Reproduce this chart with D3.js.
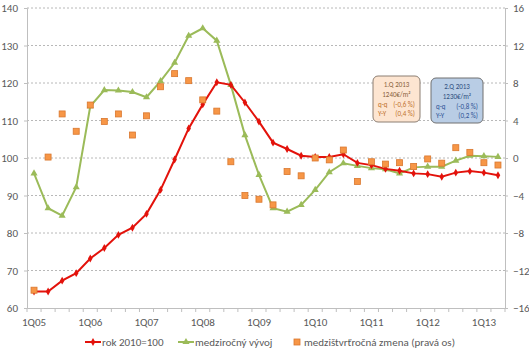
<!DOCTYPE html>
<html><head><meta charset="utf-8">
<script src="https://cdn.jsdelivr.net/npm/d3@7"></script>
<style>
body{margin:0;background:#fff;}
text{font-family:Carlito,Calibri,Lato,"Liberation Sans",sans-serif;}
</style></head>
<body><svg id="c" width="529" height="355"></svg>
<script>
const categories = ["1Q05","2Q05","3Q05","4Q05","1Q06","2Q06","3Q06","4Q06","1Q07","2Q07","3Q07","4Q07",
"1Q08","2Q08","3Q08","4Q08","1Q09","2Q09","3Q09","4Q09","1Q10","2Q10","3Q10","4Q10",
"1Q11","2Q11","3Q11","4Q11","1Q12","2Q12","3Q12","4Q12","1Q13","2Q13"];
const indexValues = [64.4,64.4,67.3,69.3,73.2,76.0,79.5,81.4,85.1,91.5,99.6,107.9,
114.3,120.2,119.5,114.8,109.7,104.1,102.4,100.6,100.3,100.3,101.0,98.7,
98.1,97.1,96.6,95.9,95.7,95.0,96.1,96.5,96.1,95.4];
const yoyValues = [95.9,86.6,84.6,92.2,113.8,118.1,118.0,117.6,116.2,120.5,125.4,132.6,
134.6,131.3,119.5,106.1,95.5,86.6,85.7,87.5,91.5,96.2,98.6,97.9,
97.3,97.0,95.9,97.5,97.7,97.7,99.3,100.6,100.5,100.3];
const qoqValues = [-14.1,0.1,4.7,2.85,5.65,3.9,4.7,2.45,4.5,7.6,9.0,8.25,
6.2,5.0,-0.4,-4.0,-4.4,-5.0,-1.45,-1.9,0.0,-0.2,0.85,-2.5,
-0.4,-0.65,-0.5,-0.9,-0.1,-0.55,1.1,0.6,-0.5,-0.75];
const leftTicks = [60,70,80,90,100,110,120,130,140];
const rightTicks = [-16,-12,-8,-4,0,4,8,12,16];
const seriesNames = ["rok 2010=100","medziročný vývoj","medzištvrťročná zmena (pravá os)"];
const box1Lines = ["1.Q 2013","1240€/m²","q-q","(-0,6 %)","Y-Y","(0,4 %)"];
const box2Lines = ["2.Q 2013","1230€/m²","q-q","(-0,8 %)","Y-Y","(0,2 %)"];

const svg = d3.select("#c");
const L=27, R=505, T=8, B=308;
const x = d3.scaleBand().domain(categories).range([L,R]).paddingInner(0).paddingOuter(0);
const cx = c => x(c)+x.bandwidth()/2;
const yL = d3.scaleLinear().domain([60,140]).range([B,T]);
const yR = d3.scaleLinear().domain([-16,16]).range([B,T]);
const axisCol="#bfbfbf", textCol="#595959";

// gridlines
svg.append("g").selectAll("line").data(leftTicks.filter(d=>d>60)).join("line")
  .attr("x1",L).attr("x2",R).attr("y1",d=>yL(d)).attr("y2",d=>yL(d))
  .attr("stroke","#a6a6a6").attr("stroke-width",0.8).attr("stroke-dasharray","2,2");

// left axis
const gl = svg.append("g").attr("transform",`translate(${L},0)`)
  .call(d3.axisLeft(yL).tickValues(leftTicks).tickSize(3).tickPadding(6));
// right axis
const gr = svg.append("g").attr("transform",`translate(${R},0)`)
  .call(d3.axisRight(yR).tickValues(rightTicks).tickSize(3).tickPadding(5));
// bottom axis labels
const gb = svg.append("g").attr("transform",`translate(0,${B})`)
  .call(d3.axisBottom(x).tickSize(0).tickPadding(10).tickFormat(d=>d.startsWith("1Q")?d:""));
[gl,gr,gb].forEach(g=>{
  g.selectAll("path.domain").attr("stroke",axisCol).attr("stroke-width",1);
  g.selectAll(".tick line").attr("stroke",axisCol);
  g.selectAll("text").attr("fill",textCol).style("font-size","11px");
});
// boundary tick marks
svg.append("g").selectAll("line").data(categories.map(c=>x(c)).concat([R])).join("line")
  .attr("x1",d=>d).attr("x2",d=>d).attr("y1",B).attr("y2",B+4).attr("stroke",axisCol);

// green line (yoy)
const lineL = d3.line().x((d,i)=>cx(categories[i])).y(d=>yL(d));
svg.append("path").datum(yoyValues).attr("d",lineL).attr("fill","none")
  .attr("stroke","#9bbb59").attr("stroke-width",2);
const tri = d3.symbol().type(d3.symbolTriangle).size(22);
svg.append("g").selectAll("path").data(yoyValues).join("path")
  .attr("transform",(d,i)=>`translate(${cx(categories[i])},${yL(d)})`)
  .attr("d",tri).attr("fill","#9bbb59");

// red line (index)
svg.append("path").datum(indexValues).attr("d",lineL).attr("fill","none")
  .attr("stroke","#e3120b").attr("stroke-width",2);
const dia = d3.symbol().type(d3.symbolDiamond).size(18);
svg.append("g").selectAll("path").data(indexValues).join("path")
  .attr("transform",(d,i)=>`translate(${cx(categories[i])},${yL(d)})`)
  .attr("d",dia).attr("fill","#e3120b");

// orange squares (right axis)
svg.append("g").selectAll("rect").data(qoqValues).join("rect")
  .attr("x",(d,i)=>cx(categories[i])-3).attr("y",d=>yR(d)-3)
  .attr("width",6).attr("height",6).attr("fill","#f79646").attr("stroke","#d9772e").attr("stroke-width",0.8);

// annotation boxes
function box(x0,y0,w,h,fill,stroke,lines,c1,c2,c3){
  const g=svg.append("g");
  g.append("rect").attr("x",x0).attr("y",y0).attr("width",w).attr("height",h).attr("rx",5)
    .attr("fill",fill).attr("stroke",stroke).attr("stroke-width",1);
  const fs="7px";
  g.append("text").attr("x",x0+w/2).attr("y",y0+11).attr("text-anchor","middle").attr("fill",c1).style("font-size",fs).text(lines[0]);
  g.append("text").attr("x",x0+w/2).attr("y",y0+20.5).attr("text-anchor","middle").attr("fill",c1).style("font-size",fs).text(lines[1]);
  g.append("text").attr("x",x0+5).attr("y",y0+31).attr("fill",c2).style("font-size",fs).text(lines[2]);
  g.append("text").attr("x",x0+w-5).attr("y",y0+31).attr("text-anchor","end").attr("fill",c2).style("font-size",fs).text(lines[3]);
  g.append("text").attr("x",x0+5).attr("y",y0+40).attr("fill",c2).style("font-size",fs).text(lines[4]);
  g.append("text").attr("x",x0+w-5).attr("y",y0+40).attr("text-anchor","end").attr("fill",c2).style("font-size",fs).text(lines[5]);
}
box(373,76,47,46,"#fde5d1","#8c7e72",box1Lines,"#8a6440","#c0732f");
box(431,78,52,45,"#b9cde5","#707070",box2Lines,"#2f4f80","#2f5597");

// legend
const lg = svg.append("g").attr("transform","translate(0,342)");
lg.append("line").attr("x1",85).attr("x2",101).attr("y1",0).attr("y2",0).attr("stroke","#e3120b").attr("stroke-width",2);
lg.append("path").attr("transform","translate(93,0)").attr("d",dia).attr("fill","#e3120b");
lg.append("text").attr("x",102).attr("y",4).attr("fill",textCol).style("font-size","11px").text(seriesNames[0]);
lg.append("line").attr("x1",178).attr("x2",194).attr("y1",0).attr("y2",0).attr("stroke","#9bbb59").attr("stroke-width",2);
lg.append("path").attr("transform","translate(186,0)").attr("d",tri).attr("fill","#9bbb59");
lg.append("text").attr("x",195).attr("y",4).attr("fill",textCol).style("font-size","11px").text(seriesNames[1]);
lg.append("rect").attr("x",294).attr("y",-3).attr("width",6).attr("height",6).attr("fill","#f79646").attr("stroke","#d9772e").attr("stroke-width",0.8);
lg.append("text").attr("x",304).attr("y",4).attr("fill",textCol).style("font-size","11px").text(seriesNames[2]);
</script></body></html>
